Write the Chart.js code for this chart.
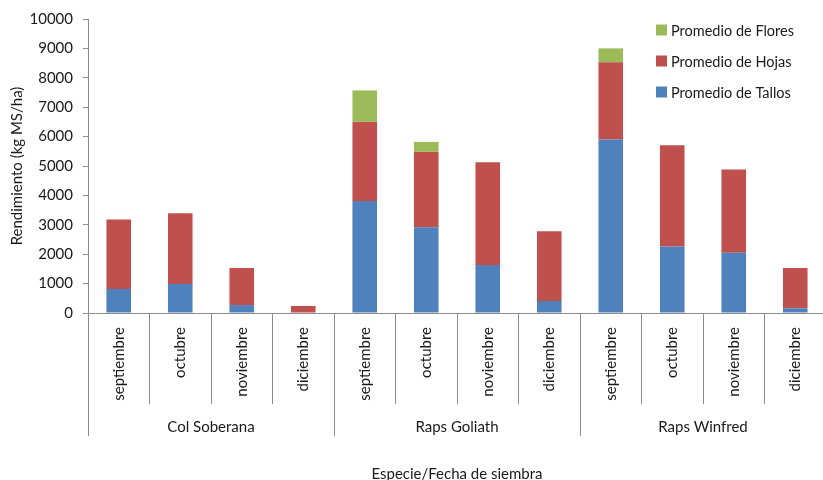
<!DOCTYPE html>
<html>
<head>
<meta charset="utf-8">
<script src="https://cdn.jsdelivr.net/npm/chart.js@4"></script>
<style>
  html, body { margin: 0; padding: 0; background: #fff; overflow: hidden; }
  #wrap { width: 823px; height: 480px; overflow: hidden; }
  canvas { display: block; }
</style>
</head>
<body>
<div id="wrap"><canvas id="c" width="826" height="480"></canvas></div>
<script>
// Sowing months and species (two-level category axis)
const months = ['septiembre', 'octubre', 'noviembre', 'diciembre'];
const species = ['Col Soberana', 'Raps Goliath', 'Raps Winfred'];

// Average dry-matter yield per plant part (kg MS/ha)
const tallos = [820, 990, 270, 0, 3810, 2920, 1630, 410, 5900, 2260, 2050, 160];
const hojas  = [2360, 2400, 1260, 240, 2690, 2560, 3500, 2370, 2630, 3450, 2830, 1370];
const flores = [0, 0, 0, 0, 1070, 340, 0, 0, 470, 0, 0, 0];

// y-axis ticks
const yTicks = [0, 1000, 2000, 3000, 4000, 5000, 6000, 7000, 8000, 9000, 10000];

const labels = [];
species.forEach(() => months.forEach(m => labels.push(m)));

const FONT = 'Lato, "Open Sans", sans-serif';
const AXIS_GREY = '#8c8c8c';

// Species labels and long separators under the month labels, plus the legend
const groupAxisPlugin = {
  id: 'groupAxis',
  afterDraw(chart) {
    const ctx = chart.ctx;
    const x = chart.scales.x;
    const top = chart.chartArea.bottom;
    const step = (x.getPixelForValue(1) - x.getPixelForValue(0));
    ctx.save();
    ctx.strokeStyle = AXIS_GREY;
    ctx.lineWidth = 1;
    for (let g = 0; g <= species.length; g++) {
      const idx = g * months.length;
      const px = Math.round(x.getPixelForValue(0) - step / 2 + idx * step) + 0.5;
      ctx.beginPath();
      ctx.moveTo(px, top + 90);
      ctx.lineTo(px, top + 123);
      ctx.stroke();
    }
    ctx.fillStyle = '#1a1a1a';
    ctx.font = '15px ' + FONT;
    ctx.textAlign = 'center';
    ctx.textBaseline = 'middle';
    species.forEach((s, g) => {
      const c0 = x.getPixelForValue(g * months.length);
      const c1 = x.getPixelForValue(g * months.length + months.length - 1);
      ctx.fillText(s, (c0 + c1) / 2, top + 114);
    });

    // legend (stack order, top item first)
    const ds = chart.data.datasets.slice().reverse();
    ctx.font = '14.5px ' + FONT;
    ctx.textAlign = 'left';
    ds.forEach((d, i) => {
      const cy = 30 + i * 31;
      ctx.fillStyle = d.backgroundColor;
      ctx.fillRect(656, cy - 5.5, 11, 11);
      ctx.fillStyle = '#1a1a1a';
      ctx.fillText(d.label, 671, cy + 1);
    });
    ctx.restore();
  }
};

new Chart(document.getElementById('c'), {
  type: 'bar',
  data: {
    labels: labels,
    datasets: [
      { label: 'Promedio de Tallos', data: tallos, backgroundColor: '#4F81BD' },
      { label: 'Promedio de Hojas',  data: hojas,  backgroundColor: '#C0504D' },
      { label: 'Promedio de Flores', data: flores, backgroundColor: '#9BBB59' }
    ]
  },
  options: {
    responsive: false,
    animation: false,
    devicePixelRatio: 1,
    layout: { padding: { top: 18, right: 0, left: 0, bottom: 0 } },
    datasets: { bar: { barPercentage: 0.8, categoryPercentage: 0.5, borderWidth: 0 } },
    plugins: { legend: { display: false }, tooltip: { enabled: false } },
    scales: {
      x: {
        stacked: true,
        afterFit(s) { s.height = 167; },
        border: { display: true, color: AXIS_GREY, width: 1 },
        grid: { display: true, drawOnChartArea: false, offset: true, tickLength: 91, color: AXIS_GREY },
        ticks: {
          autoSkip: false, minRotation: 90, maxRotation: 90, padding: -77,
          color: '#1a1a1a', font: { family: FONT, size: 15 }
        },
        title: {
          display: true, text: 'Especie/Fecha de siembra', color: '#1a1a1a',
          font: { family: FONT, size: 15 }, padding: { top: 0, bottom: -3 }
        }
      },
      y: {
        stacked: true,
        min: 0, max: 10000,
        afterFit(s) { s.width = 88; },
        afterBuildTicks(s) { s.ticks = yTicks.map(v => ({ value: v })); },
        border: { display: true, color: AXIS_GREY, width: 1 },
        grid: { display: true, drawOnChartArea: false, tickLength: 5, color: AXIS_GREY },
        ticks: {
          color: '#1a1a1a', padding: 10, font: { family: FONT, size: 15 },
          callback: (v) => String(v)
        },
        title: {
          display: true, text: 'Rendimiento (kg MS/ha)', color: '#1a1a1a',
          font: { family: FONT, size: 15 }, padding: { top: 8, bottom: 0 }
        }
      }
    }
  },
  plugins: [groupAxisPlugin]
});
</script>
</body>
</html>
